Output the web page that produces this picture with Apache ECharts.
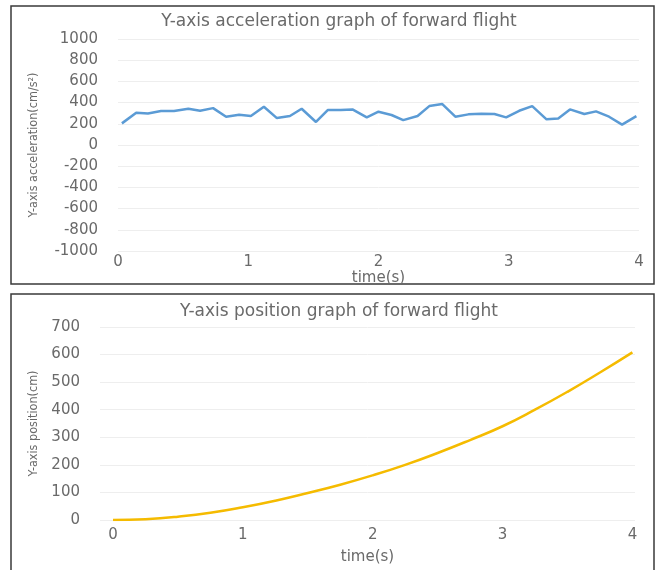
<!DOCTYPE html>
<html>
<head>
<meta charset="utf-8">
<script src="https://cdn.jsdelivr.net/npm/echarts@6/dist/echarts.min.js"></script>
<style>
html,body{margin:0;padding:0;background:#fff;}
#c{width:661px;height:570px;}
</style>
</head>
<body>
<div id="c"></div>
<script>
// Top chart: Y-axis acceleration (cm/s^2) vs time (s)
var accTime = [0.03,0.14,0.23,0.33,0.43,0.54,0.63,0.73,0.83,0.93,1.02,1.12,1.22,1.32,1.41,1.52,1.61,1.71,1.80,1.91,2.00,2.10,2.19,2.30,2.39,2.49,2.59,2.69,2.79,2.89,2.98,3.08,3.18,3.29,3.38,3.47,3.58,3.67,3.77,3.87,3.98];
var accValue = [204,305,298,320,320,342,323,348,267,286,273,361,254,273,342,217,330,330,336,261,314,283,235,273,367,386,267,289,295,292,261,323,367,242,251,336,292,317,267,192,273];
var accTicks = [-1000,-800,-600,-400,-200,0,200,400,600,800,1000];

// Bottom chart: Y-axis position (cm) vs time (s)
var posTime = [0,0.25,0.5,0.75,1,1.25,1.5,1.75,2,2.25,2.5,2.75,3,3.25,3.5,3.75,4];
var posValue = [0,3,12,26,46,70,98,128,162,200,243,290,340,400,465,535,608];
var posTicks = [0,100,200,300,400,500,600,700];

var timeTicks = [0,1,2,3,4];

function pair(xs, ys){ return xs.map(function(x,i){ return [x, ys[i]]; }); }

var txt = '#6a6a6a';
var tickFont = {color: txt, fontFamily: 'DejaVu Sans', fontSize: 15};
var nameFont = {color: txt, fontFamily: 'DejaVu Sans Condensed, DejaVu Sans, sans-serif', fontSize: 12.5};
var gridLine = {show: true, lineStyle: {color: '#eeeeee', width: 1}};
function plain(v){ return String(v); }

var chart = echarts.init(document.getElementById('c'), null, {renderer: 'canvas'});
chart.setOption({
  backgroundColor: '#ffffff',
  animation: false,
  title: [
    {text: 'Y-axis acceleration graph of forward flight', left: 334, textAlign: 'center', top: 8,
     textStyle: {color: txt, fontFamily: 'DejaVu Sans', fontSize: 17, fontWeight: 'normal'}},
    {text: 'Y-axis position graph of forward flight', left: 334, textAlign: 'center', top: 298,
     textStyle: {color: txt, fontFamily: 'DejaVu Sans', fontSize: 17, fontWeight: 'normal'}}
  ],
  graphic: [
    {type: 'rect', shape: {x: 11, y: 6, width: 643, height: 278}, style: {fill: 'none', stroke: '#3a3a3a', lineWidth: 1.5}, silent: true},
    {type: 'rect', shape: {x: 11, y: 294, width: 643, height: 290}, style: {fill: 'none', stroke: '#3a3a3a', lineWidth: 1.5}, silent: true}
  ],
  grid: [
    {left: 118, right: 22, top: 39, bottom: 319},
    {left: 100, right: 26, top: 327, bottom: 50}
  ],
  xAxis: [
    {type: 'value', gridIndex: 0, min: timeTicks[0], max: timeTicks[timeTicks.length-1], interval: 1,
     axisLine: {show: false}, axisTick: {show: false}, splitLine: {show: false},
     axisLabel: Object.assign({margin: 4, formatter: plain}, tickFont),
     name: 'time(s)', nameLocation: 'middle', nameGap: 17, nameTextStyle: {color: txt, fontFamily: 'DejaVu Sans', fontSize: 15}},
    {type: 'value', gridIndex: 1, min: -0.1, max: 4.02, splitNumber: 4,
     axisLine: {show: false}, axisTick: {show: false}, splitLine: {show: false},
     axisLabel: Object.assign({margin: 8, showMinLabel: false, showMaxLabel: false,
       formatter: function(v){ return timeTicks.indexOf(Math.round(v*1000)/1000) >= 0 ? String(Math.round(v)) : ''; }}, tickFont),
     name: 'time(s)', nameLocation: 'middle', nameGap: 30, nameTextStyle: {color: txt, fontFamily: 'DejaVu Sans', fontSize: 15}}
  ],
  yAxis: [
    {type: 'value', gridIndex: 0, min: accTicks[0], max: accTicks[accTicks.length-1], interval: 200,
     axisLine: {show: false}, axisTick: {show: false}, splitLine: gridLine,
     axisLabel: Object.assign({margin: 20, formatter: plain}, tickFont),
     name: 'Y-axis acceleration(cm/s²)', nameLocation: 'middle', nameGap: 78, nameTextStyle: nameFont},
    {type: 'value', gridIndex: 1, min: posTicks[0], max: posTicks[posTicks.length-1], interval: 100,
     axisLine: {show: false}, axisTick: {show: false}, splitLine: gridLine,
     axisLabel: Object.assign({margin: 20, formatter: plain}, tickFont),
     name: 'Y-axis position(cm)', nameLocation: 'middle', nameGap: 60, nameTextStyle: nameFont}
  ],
  series: [
    {type: 'line', xAxisIndex: 0, yAxisIndex: 0, data: pair(accTime, accValue), showSymbol: false,
     lineStyle: {color: '#5b9bd5', width: 2.5}, itemStyle: {color: '#5b9bd5'}},
    {type: 'line', xAxisIndex: 1, yAxisIndex: 1, data: pair(posTime, posValue), showSymbol: false, smooth: true,
     lineStyle: {color: '#f5bb00', width: 2.5}, itemStyle: {color: '#f5bb00'}}
  ]
});
</script>
</body>
</html>
